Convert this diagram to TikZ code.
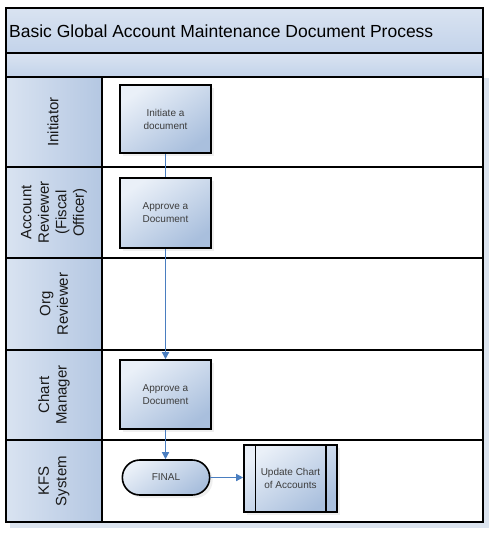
\documentclass[tikz,border=0pt]{standalone}
\usepackage{fontspec}
\setmainfont{Liberation Sans}
\usetikzlibrary{arrows.meta,shadows,shapes.misc}
\definecolor{hdrlight}{HTML}{D9E3F1}
\definecolor{hdrdark}{HTML}{B4C7E2}
\definecolor{bandc}{HTML}{C3D3EA}
\definecolor{boxlight}{HTML}{EAF0F8}
\definecolor{boxdark}{HTML}{A9BFDD}
\definecolor{flow}{HTML}{4A7EC0}
\definecolor{txt}{HTML}{3C3C3C}
\definecolor{shadowc}{HTML}{DCE4EF}
\begin{document}
\begin{tikzpicture}[x=1pt,y=-1pt,
  frame/.style={draw=black,line width=1.6pt},
  band/.style={frame,top color=hdrlight,bottom color=bandc},
  lanehead/.style={frame,left color=hdrlight,right color=hdrdark},
  lanebody/.style={frame,fill=white},
  lanelabel/.style={rotate=90,align=center,text=black!90,
    font=\fontsize{15}{17.5}\selectfont,inner sep=0pt},
  procbox/.style={draw=black,line width=1.6pt,minimum width=91pt,minimum height=68pt,
    top color=boxlight,bottom color=boxdark,shading angle=35,
    align=center,text=txt,font=\fontsize{10}{13}\selectfont,
    drop shadow={opacity=0.12,shadow xshift=3pt,shadow yshift=-3pt}},
  termbox/.style={procbox,rounded rectangle,minimum width=94pt,minimum height=35pt},
  flowline/.style={draw=flow,line width=1.3pt},
  flowarrow/.style={flowline,-{Triangle[length=7pt,width=7pt]}},
]
\useasboundingbox (0,0) rectangle (499,533);
% frame shadow
\fill[shadowc] (10,78) rectangle (489,528);
% title band and second band
\draw[band] (6,8) rectangle (483,53);
\draw[band] (6,53) rectangle (483,77);
\node[anchor=west,font=\fontsize{17.5}{20}\selectfont,inner sep=0pt] (title) at (9,31)
  {Basic Global Account Maintenance Document Process};
% lanes
\foreach \ya/\yb in {77/167,167/258,258/350,350/440,440/522}{
  \draw[lanebody] (102,\ya) rectangle (483,\yb);
  \draw[lanehead] (6,\ya) rectangle (102,\yb);
}
\node[lanelabel] (l1) at (53,122) {Initiator};
\node[lanelabel] (l2) at (54,212.5) {Account\\Reviewer\\(Fiscal\\Officer)};
\node[lanelabel] (l3) at (54,304) {Org\\Reviewer};
\node[lanelabel] (l4) at (54,395) {Chart\\Manager};
\node[lanelabel] (l5) at (54,481) {KFS\\System};
% process boxes
\node[procbox] (init) at (165.5,119) {Initiate a\\document};
\node[procbox,minimum height=70pt] (appr1) at (165.5,213) {Approve a\\Document};
\node[procbox,minimum height=69pt] (appr2) at (165.5,394.5) {Approve a\\Document};
\node[termbox] (final) at (166,477.5) {FINAL};
\node[procbox,minimum width=93pt,minimum height=67pt] (update) at (290.5,478.5) {Update Chart\\of Accounts};
\draw[line width=1.4pt] ([xshift=12pt]update.north west) -- ([xshift=12pt]update.south west);
\draw[line width=1.4pt] ([xshift=-12pt]update.north east) -- ([xshift=-12pt]update.south east);
% connectors
\draw[flowline] (init.south) -- (appr1.north);
\draw[flowarrow] (appr1.south) -- (appr2.north);
\draw[flowarrow] (appr2.south) -- (final.north -| appr2.south);
\draw[flowarrow] (final.east) -- (final.east -| update.west);
\end{tikzpicture}
\end{document}
